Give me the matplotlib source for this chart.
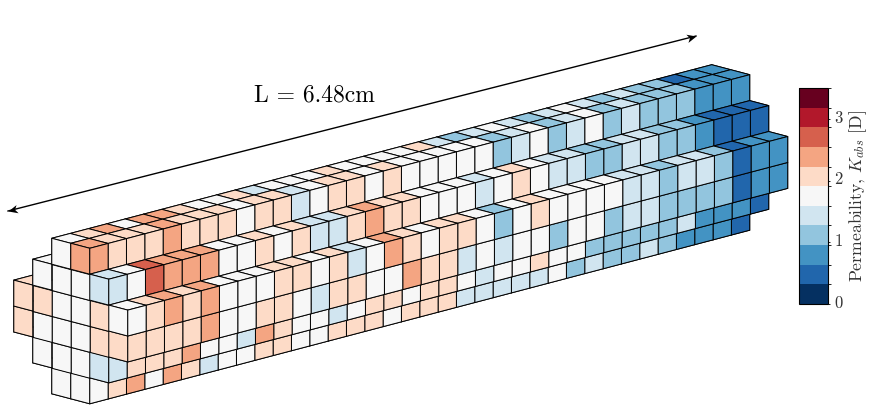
import numpy as np
import matplotlib
matplotlib.use("Agg")
import matplotlib.pyplot as plt
from matplotlib.cm import ScalarMappable
from matplotlib.colors import BoundaryNorm
from matplotlib.markers import MarkerStyle
from matplotlib.path import Path
from matplotlib.transforms import Affine2D, ScaledTranslation

plt.rcParams['font.family'] = ['cmr10', 'DejaVu Serif']
plt.rcParams['mathtext.fontset'] = 'cm'
plt.rcParams['axes.formatter.use_mathtext'] = True

# voxel grid of the core: 36 slices of 0.18 cm, 6 x 6 circular cross section
n_slices = 36
col_first_row = [2, 1, 0, 0, 1, 2]
col_last_row = [3, 4, 5, 5, 4, 3]

# permeability [D] of the end slice, one list per column, top row first
front_col0 = [2.1, 2.1]
front_col1 = [1.75, 2.1, 1.75, 1.75]
front_col2 = [1.75, 1.75, 1.75, 1.75, 1.75, 1.75]
front_col3 = [2.4, 1.75, 1.75, 1.75, 1.75, 1.75]
front_col4 = [1.4, 2.1, 2.1, 1.4]
front_col5 = [1.75, 2.1]

# permeability [D] along the core for the voxels that can be seen
col2_row0 = [1.75,2.1,2.4,1.75,2.4,2.4,2.1,1.75,1.75,2.1,1.4,1.75,1.75,1.75,2.1,1.75,1.75,1.75,
             1.75,2.1,1.4,1.1,1.4,1.75,1.4,1.1,1.4,1.75,1.4,1.1,1.4,1.1,1.1,0.5,0.8,0.8]
col3_row0 = [2.4,2.1,2.1,2.1,2.4,2.1,2.1,2.1,1.75,2.1,2.1,1.4,1.75,2.1,2.1,1.75,2.1,1.75,
             1.75,1.75,1.75,1.75,1.1,1.4,1.75,1.1,1.4,1.75,1.1,1.4,1.1,1.1,1.1,0.8,0.8,0.8]
col4_row1 = [1.4,1.75,2.7,2.4,2.4,2.4,1.75,1.75,2.1,1.75,2.1,1.4,1.4,2.1,2.4,2.1,2.1,1.75,
             1.75,1.75,1.4,1.75,2.1,1.75,1.4,1.4,1.1,1.1,1.4,1.4,1.1,1.1,0.8,0.5,0.5,0.5]
col5_row2 = [1.75,2.1,2.4,2.1,2.4,1.75,1.75,1.75,2.1,2.1,1.75,2.1,1.4,1.75,2.4,2.1,1.75,2.1,
             2.1,1.75,1.1,1.75,2.1,1.75,1.75,1.75,1.75,1.4,1.4,1.1,1.4,1.4,1.1,0.5,0.8,0.8]
col5_row3 = [2.1,2.1,2.1,2.1,2.4,1.75,1.75,2.1,2.1,1.75,1.4,2.1,2.1,1.75,1.75,2.4,2.1,2.1,
             1.4,1.75,1.4,1.75,1.75,1.1,1.75,1.75,1.1,1.4,1.4,1.1,1.1,1.1,1.1,0.5,0.8,0.8]
col4_row4 = [1.4,2.1,2.1,2.1,2.4,1.75,1.75,1.4,2.4,2.1,1.75,1.75,1.4,1.75,2.1,2.1,1.75,2.1,
             2.1,1.75,1.4,1.75,1.75,2.1,1.75,1.75,1.1,1.1,1.1,1.1,1.1,1.4,0.8,0.8,0.8,0.5]
col3_row5 = [1.75,2.1,2.4,1.75,2.4,2.1,1.4,1.75,1.75,2.1,2.1,1.75,1.75,2.1,2.1,2.1,1.75,2.1,
             2.1,2.1,1.4,1.4,1.4,1.4,1.4,1.75,1.1,1.4,1.1,1.1,1.4,1.1,0.8,0.8,0.8,0.5]

# colour scale
k_min = 0
k_max = 3.5
n_levels = 11
bar_ticks = [0, 1, 2, 3]
length_label = "L = 6.48cm"
bar_label = r"Permeability, $K_{abs}$ [D]"

# fill the grid, voxels out of sight keep the background value
filled = np.zeros((n_slices, 6, 6), dtype=bool)
perm = np.full((n_slices, 6, 6), 1.75)

def to_yz(col, row):
    return 5 - col, 5 - row

for col in range(6):
    for row in range(col_first_row[col], col_last_row[col] + 1):
        y, z = to_yz(col, row)
        filled[:, y, z] = True

along = {(2, 0): col2_row0, (3, 0): col3_row0, (4, 1): col4_row1, (5, 2): col5_row2,
         (5, 3): col5_row3, (4, 4): col4_row4, (3, 5): col3_row5}
for (col, row), vals in along.items():
    y, z = to_yz(col, row)
    perm[:, y, z] = vals

front = [front_col0, front_col1, front_col2, front_col3, front_col4, front_col5]
for col, vals in enumerate(front):
    for j, val in enumerate(vals):
        y, z = to_yz(col, col_first_row[col] + j)
        perm[0, y, z] = val

cmap = plt.get_cmap("RdBu_r", n_levels)
bounds = np.linspace(k_min, k_max, n_levels + 1)
norm = BoundaryNorm(bounds, n_levels)

fig = plt.figure(figsize=(8.7, 4.11), dpi=100)

# square 3D axes bigger than the figure, placed in pixels
ax = fig.add_axes([-46 / 870, -270 / 411, 1, 870 / 411], projection="3d", proj_type="ortho")
ax.voxels(filled, facecolors=cmap(norm(perm)), edgecolors="k", linewidth=0.7, shade=False)
ax.set_xlim(0, n_slices)
ax.set_ylim(0, 6)
ax.set_zlim(0, 6)
ax.set_box_aspect((n_slices * 0.965, 6, 6), zoom=1.072)
ax.view_init(elev=15.25, azim=-135)
ax.set_axis_off()

# overlay in pixel coordinates for the arrow and the length text
over = fig.add_axes([0, 0, 1, 1])
over.set_xlim(0, 870)
over.set_ylim(411, 0)
over.axis("off")
arrow_x = [8, 696]
arrow_y = [211, 36]
over.plot(arrow_x, arrow_y, color="k", lw=1)

# stealth head, tip at the origin of the marker
head = Path([(0, 0), (-1, 0.45), (-0.72, 0), (-1, -0.45), (0, 0)],
            [Path.MOVETO, Path.LINETO, Path.LINETO, Path.LINETO, Path.CLOSEPOLY])
angle = np.degrees(np.arctan2(arrow_y[0] - arrow_y[1], arrow_x[1] - arrow_x[0]))
for px, py, rot in [(arrow_x[1], arrow_y[1], angle), (arrow_x[0], arrow_y[0], angle + 180)]:
    over.plot(px, py, marker=MarkerStyle(head, transform=Affine2D().rotate_deg(rot)),
              ms=13.5, color="k", mew=0, clip_on=False)
over.text(314, 95.5, length_label, fontsize=17, ha="center", va="center", color="k")

cax = fig.add_axes([799 / 870, 1 - 304 / 411, 29 / 870, 216 / 411])
cb = fig.colorbar(ScalarMappable(norm=norm, cmap=cmap), cax=cax, boundaries=bounds,
                  ticks=bar_ticks, spacing="proportional")
cb.ax.tick_params(length=1.5, width=0.6, labelsize=12, pad=2.5, labelcolor="#333333")
cb.outline.set_linewidth(0.8)
cb.set_label(bar_label, fontsize=12.7, color="#333333", labelpad=3)

# tick labels sit a little above their ticks
lift = ScaledTranslation(0, 2 / 72, fig.dpi_scale_trans)
for lab in cb.ax.get_yticklabels():
    lab.set_transform(lab.get_transform() + lift)

fig.savefig("out.png", dpi=100)
